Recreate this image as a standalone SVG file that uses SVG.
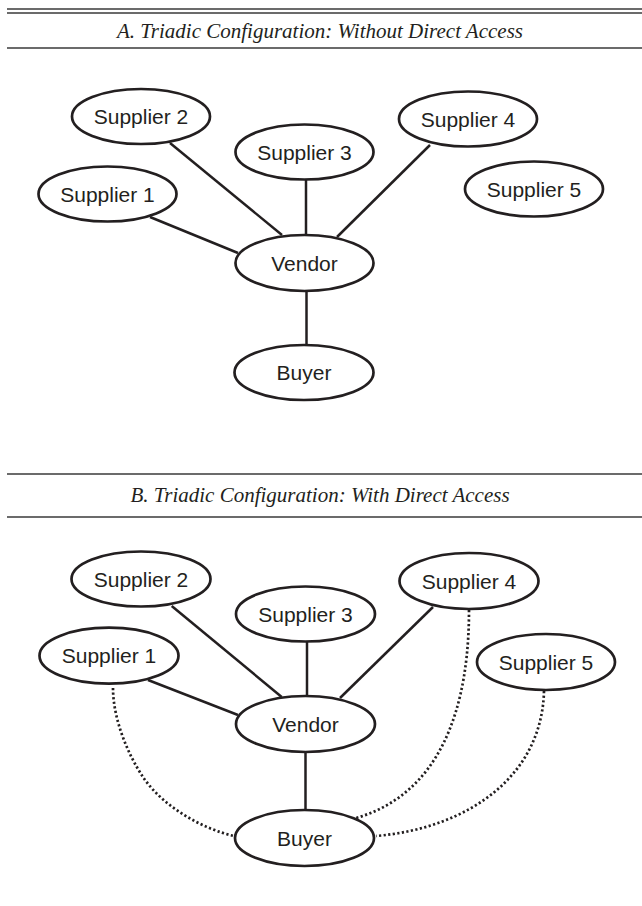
<svg xmlns="http://www.w3.org/2000/svg" width="642" height="906" viewBox="0 0 642 906">
  <style>
    .rule { stroke: #3a3a3a; stroke-width: 1.6; fill: none; }
    .title { font-family: "Liberation Serif", "Times New Roman", serif; font-style: italic; font-size: 21px; fill: #231f20; text-anchor: middle; }
    .node ellipse { fill: #ffffff; stroke: #231f20; stroke-width: 2.7; }
    .node text { font-family: "Liberation Sans", Arial, sans-serif; font-size: 21px; fill: #231f20; text-anchor: middle; }
    .edge { stroke: #231f20; stroke-width: 2.5; fill: none; }
    .direct { stroke: #231f20; stroke-width: 2.7; fill: none; stroke-dasharray: 2.2 2.4; }
  </style>

  <!-- Section headers -->
  <g id="header-a">
    <line class="rule" x1="7" y1="9" x2="642" y2="9"/>
    <line class="rule" x1="7" y1="13" x2="642" y2="13"/>
    <text class="title" x="320" y="38">A. Triadic Configuration: Without Direct Access</text>
    <line class="rule" x1="7" y1="48" x2="642" y2="48"/>
  </g>
  <g id="header-b">
    <line class="rule" x1="7" y1="474" x2="642" y2="474"/>
    <text class="title" x="320" y="502">B. Triadic Configuration: With Direct Access</text>
    <line class="rule" x1="7" y1="517" x2="642" y2="517"/>
  </g>

  <!-- Connectors -->
  <g id="connectors">
    <!-- panel A -->
    <line class="edge" x1="170" y1="143" x2="282" y2="235"/>
    <line class="edge" x1="150" y1="217" x2="238" y2="253"/>
    <line class="edge" x1="306" y1="179" x2="306" y2="235"/>
    <line class="edge" x1="430" y1="145" x2="337" y2="237"/>
    <line class="edge" x1="306.5" y1="291" x2="306.5" y2="345"/>
    <!-- panel B -->
    <line class="edge" x1="171.7" y1="606" x2="281.7" y2="697"/>
    <line class="edge" x1="148" y1="680" x2="238" y2="715"/>
    <line class="edge" x1="307" y1="641" x2="307" y2="697"/>
    <line class="edge" x1="433" y1="607" x2="340" y2="698"/>
    <line class="edge" x1="305.5" y1="752" x2="305.5" y2="810"/>
    <!-- direct access links (dotted) -->
    <path class="direct" d="M113,688 C113,718 127,753 143,777 C163,807 203,829 234,836"/>
    <path class="direct" d="M469,610 C469,740 420,800 356,818"/>
    <path class="direct" d="M544,691 C542,775 470,828 376,836"/>
  </g>

  <!-- Panel A nodes -->
  <g id="a-supplier1" class="node"><ellipse cx="107.5" cy="194" rx="69" ry="27.5"/><text x="107.5" y="201.5">Supplier 1</text></g>
  <g id="a-supplier2" class="node"><ellipse cx="141" cy="116.5" rx="69" ry="27.5"/><text x="141" y="124">Supplier 2</text></g>
  <g id="a-supplier3" class="node"><ellipse cx="304.5" cy="152" rx="69" ry="27.5"/><text x="304.5" y="159.5">Supplier 3</text></g>
  <g id="a-supplier4" class="node"><ellipse cx="468" cy="119" rx="69" ry="27.5"/><text x="468" y="126.5">Supplier 4</text></g>
  <g id="a-supplier5" class="node"><ellipse cx="534" cy="189" rx="69" ry="27.5"/><text x="534" y="196.5">Supplier 5</text></g>
  <g id="a-vendor" class="node"><ellipse cx="304.5" cy="263" rx="69" ry="28"/><text x="304.5" y="270.5">Vendor</text></g>
  <g id="a-buyer" class="node"><ellipse cx="304" cy="372.5" rx="69.5" ry="27.5"/><text x="304" y="380">Buyer</text></g>

  <!-- Panel B nodes -->
  <g id="b-supplier1" class="node"><ellipse cx="109" cy="655.7" rx="69.5" ry="28"/><text x="109" y="663">Supplier 1</text></g>
  <g id="b-supplier2" class="node"><ellipse cx="141" cy="579" rx="69.5" ry="27.5"/><text x="141" y="586.5">Supplier 2</text></g>
  <g id="b-supplier3" class="node"><ellipse cx="305.5" cy="614" rx="69.5" ry="27.5"/><text x="305.5" y="621.5">Supplier 3</text></g>
  <g id="b-supplier4" class="node"><ellipse cx="469" cy="581" rx="69.5" ry="28"/><text x="469" y="588.5">Supplier 4</text></g>
  <g id="b-supplier5" class="node"><ellipse cx="546" cy="662" rx="69" ry="28"/><text x="546" y="669.5">Supplier 5</text></g>
  <g id="b-vendor" class="node"><ellipse cx="305.5" cy="724" rx="69.5" ry="28"/><text x="305.5" y="731.5">Vendor</text></g>
  <g id="b-buyer" class="node"><ellipse cx="304.5" cy="838" rx="69.5" ry="28"/><text x="304.5" y="845.5">Buyer</text></g>
</svg>
